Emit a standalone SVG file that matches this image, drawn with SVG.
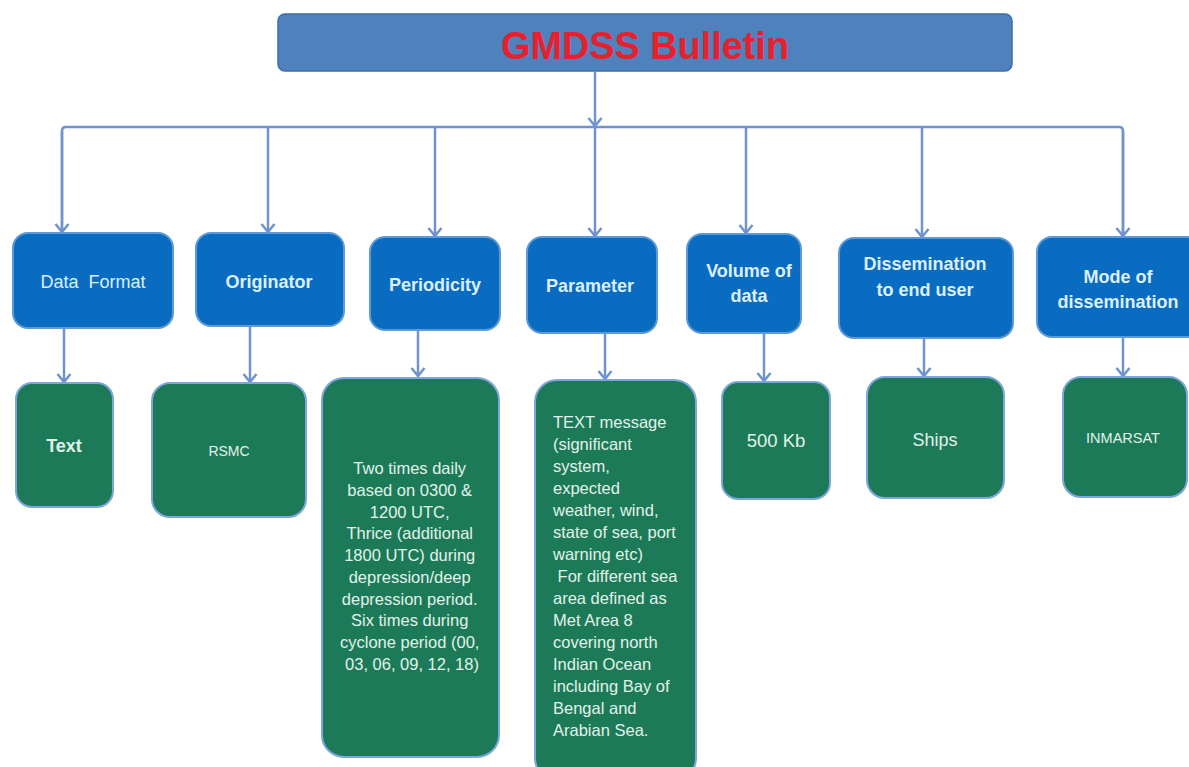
<svg xmlns="http://www.w3.org/2000/svg" width="1189" height="767" viewBox="0 0 1189 767">
<defs>
<marker id="arr" markerUnits="userSpaceOnUse" viewBox="-10 -8 12 16" refX="0" refY="0" markerWidth="12" markerHeight="16" orient="auto">
<path d="M-8,-6.5 L0,0 L-8,6.5" fill="none" stroke="#7092cf" stroke-width="2.5"/>
</marker>
</defs>
<style>
.blue{fill:#0a6cc0;stroke:#5f9ad8;stroke-width:2}
.green{fill:#1c7a58;stroke:#7ea6dc;stroke-width:2}
.bt{font-family:"Liberation Sans",Arial,sans-serif;font-size:18px;font-weight:bold;fill:#dcefff;text-anchor:middle}
.gt{font-family:"Liberation Sans",Arial,sans-serif;fill:#e2f2ea;text-anchor:middle}
.con{fill:none;stroke:#7092cf;stroke-width:2.5}
</style>
<rect width="1189" height="767" fill="#ffffff"/>
<g id="title">
<rect x="278" y="14" width="734" height="57" rx="7" fill="#4f81bd" stroke="#3d6da8" stroke-width="1.5"/>
<text x="645" y="59" font-family="Liberation Sans,Arial,sans-serif" font-size="38" font-weight="bold" fill="#e8202c" text-anchor="middle" textLength="288" lengthAdjust="spacingAndGlyphs">GMDSS Bulletin</text>
</g>
<g id="connectors">
<path class="con" d="M595,71 V126" marker-end="url(#arr)"/>
<path class="con" d="M62,232 V131 Q62,127 66,127 H1119 Q1123,127 1123,131 V236"/>
<path class="con" d="M62,131 V232" marker-end="url(#arr)"/>
<path class="con" d="M1123,131 V236" marker-end="url(#arr)"/>
<path class="con" d="M268,127 V232" marker-end="url(#arr)"/>
<path class="con" d="M435,127 V236" marker-end="url(#arr)"/>
<path class="con" d="M595,127 V236" marker-end="url(#arr)"/>
<path class="con" d="M746,127 V233" marker-end="url(#arr)"/>
<path class="con" d="M922,127 V237" marker-end="url(#arr)"/>
<path class="con" d="M64,329 V382" marker-end="url(#arr)"/>
<path class="con" d="M250,327 V382" marker-end="url(#arr)"/>
<path class="con" d="M418,331 V376" marker-end="url(#arr)"/>
<path class="con" d="M605,334 V379" marker-end="url(#arr)"/>
<path class="con" d="M764,334 V381" marker-end="url(#arr)"/>
<path class="con" d="M924,339 V376" marker-end="url(#arr)"/>
<path class="con" d="M1123,337 V376" marker-end="url(#arr)"/>
</g>
<g id="dataformat">
<rect class="blue" x="13" y="233" width="160" height="95" rx="15"/>
<text class="bt" x="93" y="288" font-size="19" style="font-weight:normal" xml:space="preserve">Data  Format</text>
</g>
<g id="originator">
<rect class="blue" x="196" y="233" width="148" height="93" rx="15"/>
<text class="bt" x="269" y="288">Originator</text>
</g>
<g id="periodicity">
<rect class="blue" x="370" y="237" width="130" height="93" rx="15"/>
<text class="bt" x="435" y="291">Periodicity</text>
</g>
<g id="parameter">
<rect class="blue" x="527" y="237" width="130" height="96" rx="15"/>
<text class="bt" x="590" y="292">Parameter</text>
</g>
<g id="volume">
<rect class="blue" x="687" y="234" width="114" height="99" rx="15"/>
<text class="bt" x="749" y="277">Volume of</text>
<text class="bt" x="749" y="302">data</text>
</g>
<g id="dissemination">
<rect class="blue" x="839" y="238" width="174" height="100" rx="15"/>
<text class="bt" x="925" y="270">Dissemination</text>
<text class="bt" x="925" y="296">to end user</text>
</g>
<g id="mode">
<rect class="blue" x="1037" y="237" width="165" height="100" rx="15"/>
<text class="bt" x="1118" y="283">Mode of</text>
<text class="bt" x="1118" y="308">dissemination</text>
</g>
<g id="text">
<rect class="green" x="16" y="383" width="97" height="124" rx="16"/>
<text class="gt" x="64" y="452" font-size="18" font-weight="bold">Text</text>
</g>
<g id="rsmc">
<rect class="green" x="152" y="383" width="154" height="134" rx="18"/>
<text class="gt" x="229" y="456" font-size="14">RSMC</text>
</g>
<g id="periodicity-detail">
<rect class="green" x="322" y="378" width="177" height="379" rx="22"/>
<text class="gt" font-size="16.5">
<tspan x="412" y="474">Two times daily</tspan>
<tspan x="412" y="496">based on 0300 &amp;</tspan>
<tspan x="412" y="518">1200 UTC,</tspan>
<tspan x="412" y="539">Thrice (additional</tspan>
<tspan x="412" y="561">1800 UTC) during</tspan>
<tspan x="412" y="583">depression/deep</tspan>
<tspan x="412" y="605">depression period.</tspan>
<tspan x="412" y="626">Six times during</tspan>
<tspan x="412" y="648">cyclone period (00,</tspan>
<tspan x="412" y="670">03, 06, 09, 12, 18)</tspan>
</text>
</g>
<g id="parameter-detail">
<rect class="green" x="535" y="380" width="161" height="400" rx="22"/>
<text class="gt" font-size="16.5" style="text-anchor:start">
<tspan x="553" y="428">TEXT message</tspan>
<tspan x="553" y="450">(significant</tspan>
<tspan x="553" y="472">system,</tspan>
<tspan x="553" y="494">expected</tspan>
<tspan x="553" y="516">weather, wind,</tspan>
<tspan x="553" y="538">state of sea, port</tspan>
<tspan x="553" y="560">warning etc)</tspan>
<tspan x="553" y="582">&#160;For different sea</tspan>
<tspan x="553" y="604">area defined as</tspan>
<tspan x="553" y="626">Met Area 8</tspan>
<tspan x="553" y="648">covering north</tspan>
<tspan x="553" y="670">Indian Ocean</tspan>
<tspan x="553" y="692">including Bay of</tspan>
<tspan x="553" y="714">Bengal and</tspan>
<tspan x="553" y="736">Arabian Sea.</tspan>
</text>
</g>
<g id="volume-detail">
<rect class="green" x="722" y="382" width="108" height="117" rx="16"/>
<text class="gt" x="776" y="447" font-size="18.5">500 Kb</text>
</g>
<g id="ships">
<rect class="green" x="867" y="377" width="137" height="121" rx="18"/>
<text class="gt" x="935" y="446" font-size="18">Ships</text>
</g>
<g id="inmarsat">
<rect class="green" x="1063" y="377" width="124" height="120" rx="18"/>
<text class="gt" x="1123" y="443" font-size="14.5">INMARSAT</text>
</g>
</svg>
